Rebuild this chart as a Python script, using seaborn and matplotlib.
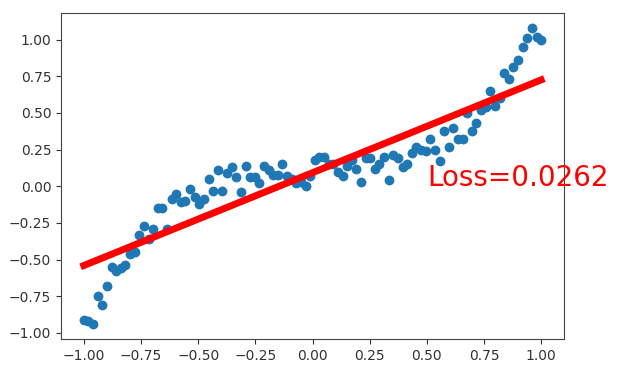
import numpy as np
import seaborn as sns
import matplotlib.pyplot as plt

# puntos (100 muestras equiespaciadas en [-1, 1])
y_points = [
    -0.91, -0.92, -0.94, -0.75, -0.81, -0.68, -0.55, -0.58, -0.56, -0.54,
    -0.46, -0.45, -0.33, -0.27, -0.36, -0.29, -0.15, -0.15, -0.29, -0.09,
    -0.05, -0.11, -0.10, -0.02, -0.07, -0.12, -0.09, 0.05, -0.03, 0.11,
    -0.03, 0.09, 0.13, 0.06, -0.04, 0.14, 0.06, 0.06, 0.02, 0.14,
    0.11, 0.08, 0.08, 0.15, 0.07, 0.05, 0.02, 0.03, 0.00, 0.07,
    0.18, 0.20, 0.20, 0.15, 0.15, 0.10, 0.07, 0.14, 0.18, 0.12,
    0.03, 0.19, 0.19, 0.12, 0.15, 0.20, 0.04, 0.21, 0.19, 0.13,
    0.15, 0.23, 0.27, 0.25, 0.24, 0.32, 0.25, 0.17, 0.38, 0.27,
    0.40, 0.32, 0.32, 0.50, 0.38, 0.43, 0.52, 0.54, 0.65, 0.55,
    0.60, 0.77, 0.73, 0.81, 0.86, 0.95, 1.01, 1.08, 1.02, 1.00,
]
x_points = np.linspace(-1, 1, len(y_points))

# recta ajustada
fit_x = [-1.0, 1.0]
fit_y = [-0.54, 0.725]
loss = 0.0262

fig = plt.figure(figsize=(6.22, 3.67), dpi=100)
# caja de ejes medida en pixeles sobre la referencia
ax = fig.add_axes([61 / 622, 1 - 339 / 367, (564 - 61) / 622, (339 - 13) / 367])

sns.scatterplot(x=x_points, y=y_points, ax=ax, color="#1f77b4", s=50, linewidth=0)
sns.lineplot(x=fit_x, y=fit_y, ax=ax, color="red", linewidth=5)
ax.text(0.5, 0, "Loss=%.4f" % loss, fontdict={"size": 20, "color": "red"})

ax.set_xticks([-1.0, -0.75, -0.5, -0.25, 0.0, 0.25, 0.5, 0.75, 1.0])
ax.set_yticks([-1.0, -0.75, -0.5, -0.25, 0.0, 0.25, 0.5, 0.75, 1.0])
ax.tick_params(labelsize=10, colors="#333333")
for s in ax.spines.values():
    s.set_color("#444444")

plt.savefig("out.png", dpi=100)
plt.close()
